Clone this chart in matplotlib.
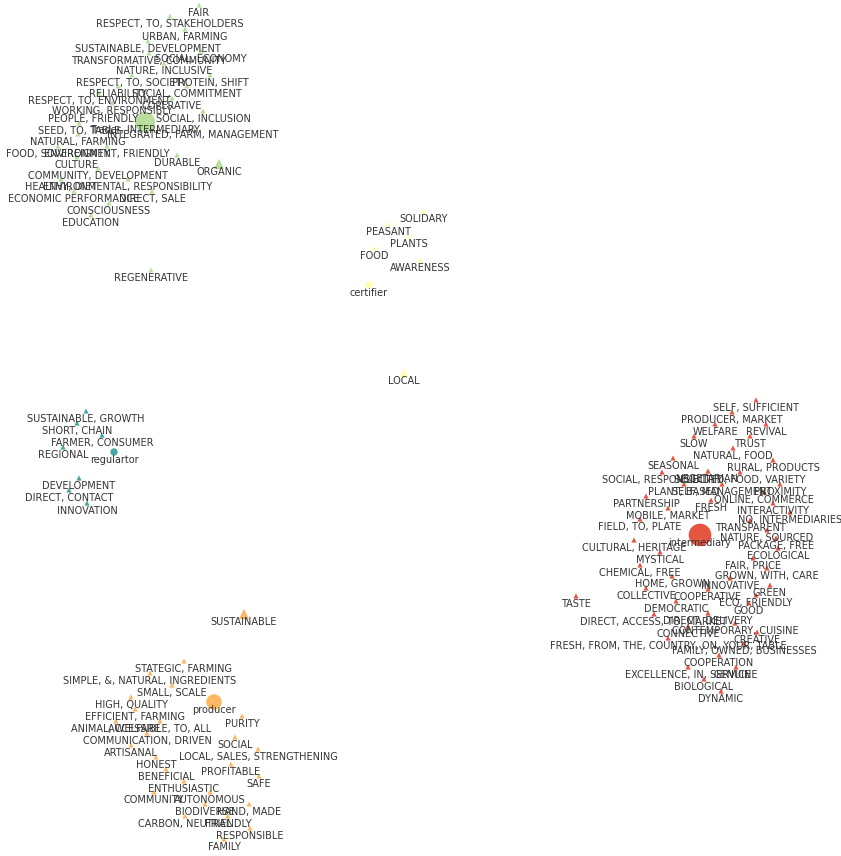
import matplotlib.pyplot as plt

# node positions are layout coordinates (x right, y down)

green_terms = ["FAIR", "RESPECT, TO, STAKEHOLDERS", "URBAN, FARMING", "SUSTAINABLE, DEVELOPMENT",
               "TRANSFORMATIVE, COMMUNITY", "SOCIAL, ECONOMY", "NATURE, INCLUSIVE", "RESPECT, TO, SOCIETY",
               "PROTEIN, SHIFT", "RELIABILITY", "SOCIAL, COMMITMENT", "RESPECT, TO, ENVIRONMENT",
               "COPERATIVE", "WORKING, RESPONSIBLY", "PEOPLE, FRIENDLY", "SOCIAL, INCLUSION",
               "SEED, TO, TABLE", "INTEGRATED, FARM, MANAGEMENT", "NATURAL, FARMING", "FOOD, SOVEREIGNTY",
               "ENVIRONMENT, FRIENDLY", "DURABLE", "ORGANIC", "CULTURE", "COMMUNITY, DEVELOPMENT",
               "HEALTHY, DIET", "ENVIRONMENTAL, RESPONSIBILITY", "ECONOMIC PERFORMANCE", "DIRECT, SALE",
               "CONSCIOUSNESS", "EDUCATION", "REGENERATIVE"]
green_x = [199, 170, 185, 148, 149, 201, 164, 132, 210, 118, 187, 99, 172, 112, 93, 203,
           79, 193, 78, 58, 107, 177, 219, 77, 98, 61, 128, 74, 152, 109, 91, 151]
green_y = [5, 16, 29, 41, 53, 51, 63, 75, 75, 86, 86, 93, 98, 103, 111, 111,
           123, 127, 134, 146, 146, 155, 164, 157, 168, 179, 179, 191, 191, 203, 215, 270]

yellow_terms = ["SOLIDARY", "PEASANT", "PLANTS", "FOOD", "AWARENESS", "LOCAL"]
yellow_x = [424, 388, 409, 374, 420, 404]
yellow_y = [211, 224, 236, 248, 260, 373]

teal_terms = ["SUSTAINABLE, GROWTH", "SHORT, CHAIN", "FARMER, CONSUMER", "REGIONAL",
              "DEVELOPMENT", "DIRECT, CONTACT", "INNOVATION"]
teal_x = [86, 77, 102, 63, 79, 69, 87]
teal_y = [411, 423, 435, 447, 478, 490, 503]

orange_terms = ["SUSTAINABLE", "STATEGIC, FARMING", "SIMPLE, &, NATURAL, INGREDIENTS", "SMALL, SCALE",
                "HIGH, QUALITY", "EFFICIENT, FARMING", "PURITY", "ANIMAL, WELFARE", "ACCESSIBLE, TO, ALL",
                "COMMUNICATION, DRIVEN", "SOCIAL", "ARTISANAL", "LOCAL, SALES, STRENGTHENING", "HONEST",
                "PROFITABLE", "BENEFICIAL", "SAFE", "ENTHUSIASTIC", "COMMUNITY", "AUTONOMOUS",
                "BIODIVERSE", "HAND, MADE", "CARBON, NEUTRAL", "FRIENDLY", "RESPONSIBLE", "FAMILY"]
orange_x = [244, 184, 150, 172, 131, 135, 242, 116, 160, 147, 235, 131, 258, 156,
            231, 166, 259, 184, 154, 210, 205, 249, 185, 228, 250, 224]
orange_y = [614, 661, 673, 685, 697, 709, 716, 721, 721, 733, 737, 745, 749, 757,
            764, 769, 776, 781, 792, 792, 804, 804, 816, 816, 828, 839]

red_terms = ["SELF, SUFFICIENT", "PRODUCER, MARKET", "WELFARE", "REVIVAL", "SLOW", "TRUST",
             "NATURAL, FOOD", "SEASONAL", "RURAL, PRODUCTS", "SOCIAL, RESPONSIBILITY", "VEGETARIAN",
             "SELECTED, FOOD, VARIETY", "PLANT, BASED", "SELF, MANAGEMENT", "PROXIMITY", "PARTNERSHIP",
             "ONLINE, COMMERCE", "FRESH", "INTERACTIVITY", "MOBILE, MARKET", "NO, INTERMEDIARIES",
             "FIELD, TO, PLATE", "TRANSPARENT", "NATURE, SOURCED", "CULTURAL, HERITAGE", "PACKAGE, FREE",
             "ECOLOGICAL", "MYSTICAL", "FAIR, PRICE", "CHEMICAL, FREE", "GROWN, WITH, CARE",
             "HOME, GROWN", "INNOVATIVE", "GREEN", "COLLECTIVE", "COOPERATIVE", "TASTE",
             "ECO, FRIENDLY", "DEMOCRATIC", "GOOD", "DIRECT, ACCESS, TO, MARKET", "DIRECT, DELIVERY",
             "CONTEMPORARY, CUISINE", "CONNECTIVE", "CREATIVE", "FRESH, FROM, THE, COUNTRY, ON, YOUR, TABLE",
             "FAMILY, OWNED, BUSINESSES", "COOPERATION", "EXCELLENCE, IN, SERVICE", "GENUINE",
             "BIOLOGICAL", "DYNAMIC"]
red_x = [756, 732, 715, 766, 694, 750, 733, 673, 773, 662, 708, 740, 684, 722, 780, 646,
         764, 711, 773, 668, 790, 640, 750, 767, 634, 776, 778, 660, 753, 640, 767,
         672, 730, 770, 646, 708, 576, 756, 676, 749, 654, 708, 735, 688, 757, 668,
         744, 719, 688, 736, 704, 721]
red_y = [400, 412, 424, 424, 436, 436, 448, 458, 460, 472, 471, 472, 484, 484, 484, 496,
         492, 500, 503, 508, 512, 519, 520, 530, 540, 538, 548, 552, 558, 565, 568,
         576, 578, 585, 588, 589, 596, 595, 601, 603, 614, 613, 623, 626, 632, 638,
         643, 655, 667, 667, 679, 691]

# actor hubs
hub_names = ["Trader, INTERMEDIARY", "certifier", "regulartor", "producer", "intermediary"]
hub_x = [145, 369, 114, 214, 700]
hub_y = [122, 285, 452, 702, 535]
hub_sizes = [210, 28, 28, 125, 265]

# terms with larger triangles
big_terms = {"ORGANIC": 55, "LOCAL": 45, "SUSTAINABLE": 55}

green = "#b9df9f"
yellow = "#ffffb3"
teal = "#47a6a6"
orange = "#fdb863"
red = "#e6553f"

groups = [
    (green_terms, green_x, green_y, green),
    (yellow_terms, yellow_x, yellow_y, yellow),
    (teal_terms, teal_x, teal_y, teal),
    (orange_terms, orange_x, orange_y, orange),
    (red_terms, red_x, red_y, red),
]
hub_colors = [green, yellow, teal, orange, red]

fig = plt.figure(figsize=(8.41, 8.56), dpi=100)
ax = fig.add_axes([0, 0, 1, 1])
ax.set_xlim(0, 841)
ax.set_ylim(856, 0)
ax.axis("off")

for terms, xs, ys, col in groups:
    sizes = [big_terms.get(t, 14) for t in terms]
    ax.scatter(xs, ys, s=sizes, marker="^", color=col, linewidths=0, zorder=2)
    for t, x, y in zip(terms, xs, ys):
        ax.annotate(t, (x, y), xytext=(0, -6), textcoords="offset points",
                    ha="center", va="center", fontsize=7, color="#333333", zorder=3)

ax.scatter(hub_x, hub_y, s=hub_sizes, marker="o", color=hub_colors, linewidths=0, zorder=2)
for name, x, y in zip(hub_names, hub_x, hub_y):
    ax.annotate(name, (x, y), xytext=(0, -6), textcoords="offset points",
                ha="center", va="center", fontsize=7, color="#333333", zorder=3)

fig.savefig("out.png", dpi=100)
